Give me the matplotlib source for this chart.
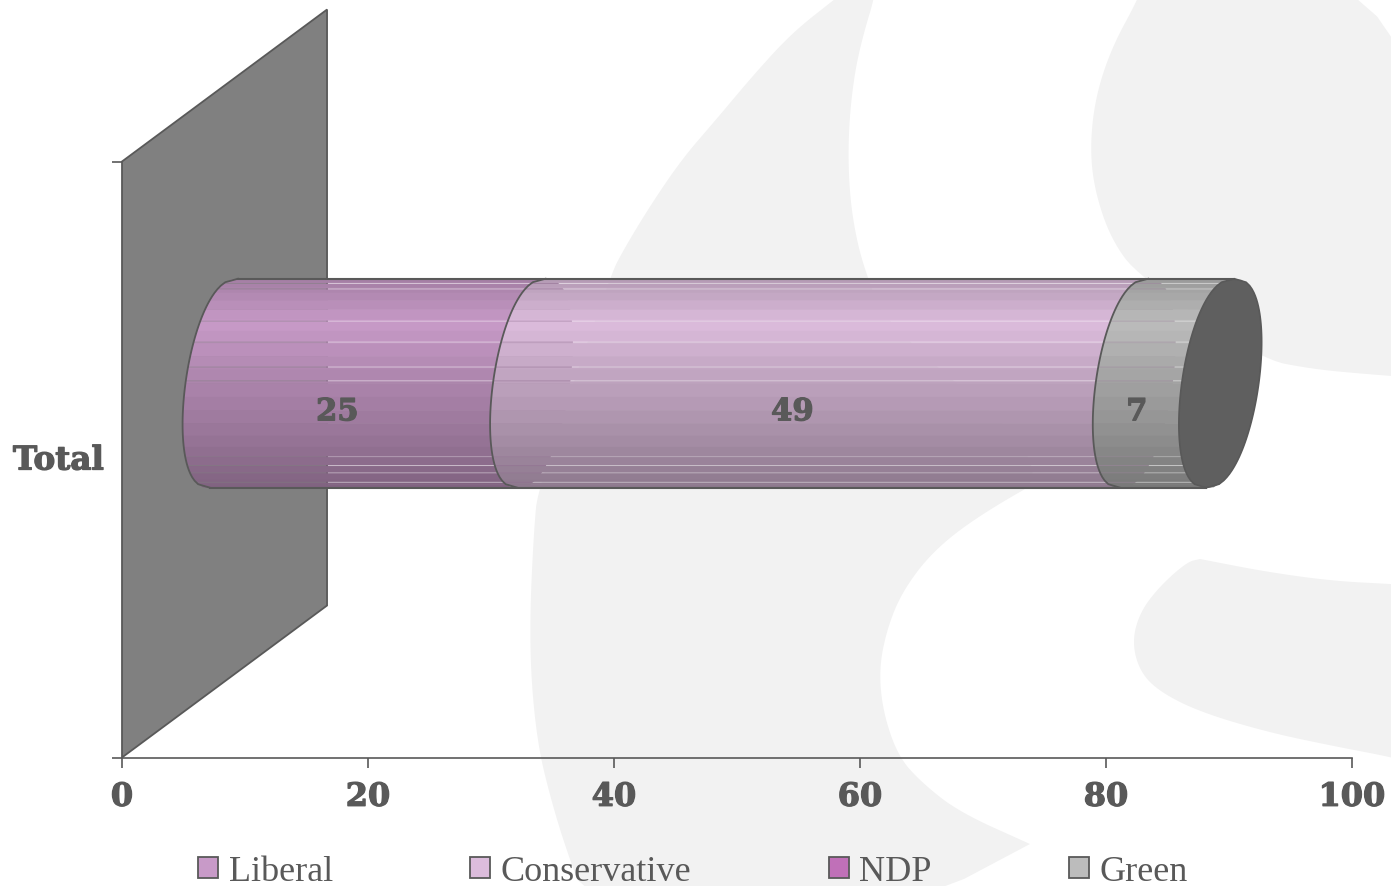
import numpy as np
import matplotlib
matplotlib.use('Agg')
import matplotlib.pyplot as plt
import matplotlib.patheffects as pe
from matplotlib.patches import Patch, Polygon
from matplotlib.colors import to_rgb

parties = ['Liberal', 'Conservative', 'NDP', 'Green']
colors = ['#c89ac8', '#dcbcdc', '#c070b8', '#bcbcbc']
values = [25, 49, 0, 7]
xticks = [0, 20, 40, 60, 80, 100]
category = 'Total'

text_color = '#595959'
line_color = '#595959'
wm_color = '#f2f2f2'

# watermark outline, image pixels (runs past the edges so smoothing keeps the borders)
wm_a_x = [860, 835, 793, 756, 714, 682, 650, 624, 610, 538, 534, 530, 531, 538, 550, 565, 587, 913, 1030, 1030,
          959, 921, 898, 883, 879, 887, 902, 932, 978, 1060, 885, 867, 857, 850, 848, 851, 859, 880]
wm_a_y = [-20, 0, 33, 73, 123, 160, 207, 250, 277, 488, 530, 613, 680, 747, 797, 847, 907, 907, 845, 845,
          813, 783, 757, 713, 670, 630, 593, 553, 517, 470, 325, 277, 243, 200, 150, 100, 50, -20]
wm_b_x = [1145, 1138, 1111, 1095, 1090, 1095, 1111, 1138, 1260, 1312, 1365, 1420, 1420]
wm_b_y = [-20, 0, 50, 100, 150, 193, 240, 277, 360, 370, 375, 379, -20]
wm_c_x = [1420, 1391, 1333, 1267, 1200, 1200, 1187, 1160, 1140, 1132, 1140, 1160, 1200, 1267, 1333, 1391, 1420]
wm_c_y = [587, 585, 582, 573, 560, 560, 563, 587, 613, 643, 673, 693, 713, 733, 747, 758, 766]

# cylinder geometry in axis units
depth_x = 8.29
semi_x = 3.13
shear = 1.14
center_y = 0.628
semi_y = 0.1753
wall_dx = 16.67
wall_dy = 0.255
label_shift = 5
label_y = 0.58

# light hairlines across the bar, as fraction of the radius
seams = [0.953, 0.902, 0.703, 0.595, 0.394, 0.155, 0.022, -0.502, -0.706, -0.789, -0.859, -0.947]
bands = np.sin(np.linspace(-np.pi / 2, np.pi / 2, 25))
levels = np.unique(np.round(np.concatenate([bands, seams]), 3))[::-1]


def shade(u):
    return np.interp(u, [-1, -0.4, 0.1, 0.58, 1], [0.64, 0.78, 0.88, 1.0, 0.82])


def curve_x(v, u, side):
    return v + depth_x + side * semi_x * np.clip(1 - u ** 2, 0, 1) ** 0.42 + shear * u


def level_y(u):
    return center_y + semi_y * u


def smooth(xs, ys, n=3):
    p = np.column_stack([xs, ys]).astype(float)
    for _ in range(n):
        q = np.roll(p, -1, axis=0)
        p = np.column_stack([0.75 * p + 0.25 * q, 0.25 * p + 0.75 * q]).reshape(-1, 2)
    return p[:, 0], p[:, 1]


heavy = [pe.withStroke(linewidth=0.9, foreground=text_color)]

fig = plt.figure(figsize=(13.91, 8.87), dpi=100)

bg = fig.add_axes([0, 0, 1, 1], zorder=0)
bg.set_xlim(0, 1391)
bg.set_ylim(887, 0)
bg.axis('off')
for xs, ys in [(wm_a_x, wm_a_y), (wm_b_x, wm_b_y), (wm_c_x, wm_c_y)]:
    sx, sy = smooth(xs, ys)
    bg.fill(sx, sy, color=wm_color, lw=0)

ax = fig.add_axes([122 / 1391, (887 - 758.5) / 887, 1230 / 1391, 596 / 887], zorder=1)
ax.patch.set_alpha(0)
ax.set_xlim(0, 100)
ax.set_ylim(0, 1)

ax.add_patch(Polygon([(0, 0), (0, 1), (wall_dx, 1 + wall_dy), (wall_dx, wall_dy)], closed=True,
                     facecolor='#808080', edgecolor=line_color, lw=1.3, clip_on=False, zorder=2))

gap = 0.0004
u_loop = np.linspace(-1, 1, 61)
z = 3
start = 0
seam_set = set(np.round(seams, 3))
for i in range(len(parties)):
    v = values[i]
    if v == 0:
        continue
    end = start + v
    base = np.array(to_rgb(colors[i]))

    # every band runs from the near rim to the far rim
    for k in range(len(levels) - 1):
        u1, u2 = levels[k], levels[k + 1]
        y1 = level_y(u1) - (gap if u1 in seam_set else 0)
        y2 = level_y(u2) + (gap if u2 in seam_set else -0.001)
        um = (u1 + u2) / 2
        pts = [(curve_x(start, u1, -1), y1), (curve_x(end, u1, 1), y1),
               (curve_x(end, u2, 1), y2), (curve_x(start, u2, -1), y2)]
        ax.add_patch(Polygon(pts, closed=True, facecolor=base * shade(um), edgecolor='none', zorder=z))

    # end cap, the last one is visible
    last = i == len(parties) - 1
    cap_x = np.concatenate([curve_x(end, u_loop, -1), curve_x(end, u_loop[::-1], 1)])
    cap_y = np.concatenate([level_y(u_loop), level_y(u_loop[::-1])])
    ax.fill(cap_x, cap_y, color='#5f5f5f' if last else base * 0.72, lw=0, zorder=z + 0.1)
    if last:
        ax.plot(cap_x, cap_y, color=line_color, lw=1.2, zorder=z + 0.2)
    ax.plot(curve_x(start, u_loop, -1), level_y(u_loop), color=line_color, lw=1.3, zorder=z + 0.2)

    ax.text((start + end) / 2 + label_shift, label_y, str(v), ha='center', va='center', fontsize=22,
            family='DejaVu Serif', weight='bold', color=text_color, zorder=20, path_effects=heavy)
    start = end
    z += 1

ax.plot([curve_x(0, 1, -1), curve_x(start, 1, 1)], [level_y(1), level_y(1)], color=line_color, lw=1.5, zorder=15)
ax.plot([curve_x(0, -1, -1), curve_x(start, -1, 1)], [level_y(-1), level_y(-1)], color=line_color, lw=1.5, zorder=15)

for side in ['top', 'right', 'left']:
    ax.spines[side].set_visible(False)
ax.spines['bottom'].set_color(line_color)
ax.spines['bottom'].set_linewidth(1.2)

ax.set_xticks(xticks)
ax.set_yticks([0, 1])
ax.set_yticklabels(['', ''])
ax.set_yticks([0.505], minor=True)
ax.set_yticklabels([category], minor=True, family='DejaVu Serif', weight='bold', fontsize=23.5, color=text_color,
                   path_effects=heavy)
ax.tick_params(axis='y', which='minor', length=0, pad=13)
ax.tick_params(axis='y', which='major', length=7.5, width=1.2, color=line_color)
ax.tick_params(axis='x', length=7.5, width=1.2, color=line_color, pad=10)
for lab in ax.get_xticklabels():
    lab.set_family('DejaVu Serif')
    lab.set_weight('bold')
    lab.set_fontsize(23)
    lab.set_color(text_color)
    lab.set_path_effects(heavy)

handles = [Patch(facecolor=c, edgecolor=line_color, lw=1.3) for c in colors]
fig.legend(handles, parties, ncol=4, frameon=False, loc='lower left', bbox_to_anchor=(198 / 1391, -0.0027),
           borderpad=0, borderaxespad=0, handlelength=0.55, handleheight=0.55, handletextpad=0.3,
           columnspacing=3.8, prop={'family': 'Liberation Serif', 'size': 26}, labelcolor=text_color)

fig.savefig('out.png', dpi=100)
